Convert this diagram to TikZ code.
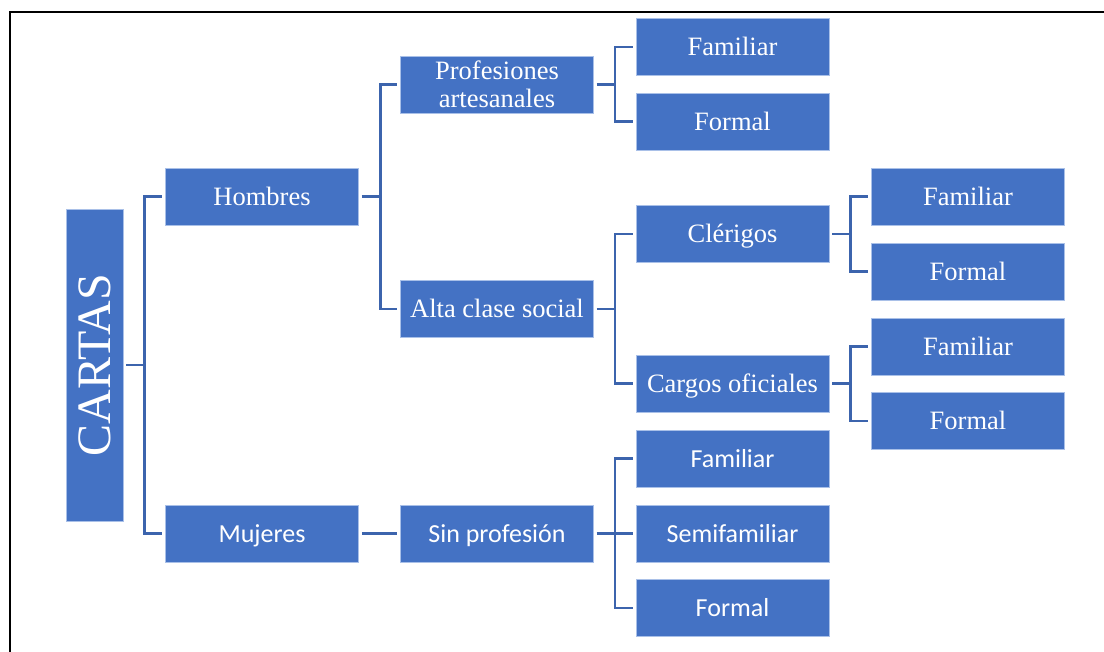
\documentclass[tikz,border=0pt]{standalone}
\usepackage{fontspec}
\setmainfont{Liberation Serif}
\newfontfamily\calibrifont{Carlito}
\usepackage{graphicx}
\usepackage{tikz}
\definecolor{boxblue}{HTML}{4472C4}
\definecolor{lineblue}{HTML}{3C64AD}
\definecolor{boxedge}{HTML}{A9C0E8}

\begin{document}
\begin{tikzpicture}[x=1pt,y=-1pt,
  box/.style={rectangle,fill=boxblue,draw=boxedge,line width=0.6pt,text=white,minimum width=193pt,minimum height=57pt,inner sep=0pt,align=center,font=\fontsize{26.5}{28}\selectfont},
  oneline/.style={box,text height=18.5pt,text depth=1.2pt},
  sansbox/.style={oneline,font=\calibrifont\fontsize{26}{28}\selectfont},
  conn/.style={draw=lineblue,line width=2.5pt,shorten <=3pt,shorten >=3pt}]
\useasboundingbox (0,0) rectangle (1104,652);
\draw[line width=2.5pt] (10,652) -- (10,12) -- (1104,12);

\node[box,minimum width=57pt,minimum height=312pt,font=\fontsize{48}{50}\selectfont] (cartas) at (94.5,365) {\rotatebox{90}{CARTAS}};

\node[oneline] (hombres) at (262,196.5) {Hombres};
\node[sansbox] (mujeres) at (262,533.5) {Mujeres};

\node[box] (profart) at (497,84.5) {Profesiones\\artesanales};
\node[oneline] (altaclase) at (497,309) {Alta clase social};
\node[sansbox] (sinprof) at (497,533.5) {Sin profesi\'on};

\node[oneline] (famprof) at (732.5,47) {Familiar};
\node[oneline] (forprof) at (732.5,121.5) {Formal};
\node[oneline] (clerigos) at (732.5,234) {Cl\'erigos};
\node[oneline] (cargos) at (732.5,383.5) {Cargos oficiales};
\node[sansbox] (famsin) at (732.5,458.5) {Familiar};
\node[sansbox] (semisin) at (732.5,533.5) {Semifamiliar};
\node[sansbox] (forsin) at (732.5,608) {Formal};

\node[oneline] (famcler) at (968,196.5) {Familiar};
\node[oneline] (forcler) at (968,271.5) {Formal};
\node[oneline] (famcarg) at (968,346.5) {Familiar};
\node[oneline] (forcarg) at (968,421) {Formal};

% conectores
\draw[conn] (cartas.east) -- ++(21,0) |- (hombres.west);
\draw[conn] (cartas.east) -- ++(21,0) |- (mujeres.west);
\draw[conn] (hombres.east) -- ++(21.5,0) |- (profart.west);
\draw[conn] (hombres.east) -- ++(21.5,0) |- (altaclase.west);
\draw[conn] (mujeres.east) -- (sinprof.west);
\draw[conn] (profart.east) -- ++(21,0) |- (famprof.west);
\draw[conn] (profart.east) -- ++(21,0) |- (forprof.west);
\draw[conn] (altaclase.east) -- ++(21,0) |- (clerigos.west);
\draw[conn] (altaclase.east) -- ++(21,0) |- (cargos.west);
\draw[conn] (sinprof.east) -- ++(21,0) |- (famsin.west);
\draw[conn] (sinprof.east) -- ++(21,0) |- (semisin.west);
\draw[conn] (sinprof.east) -- ++(21,0) |- (forsin.west);
\draw[conn] (clerigos.east) -- ++(21,0) |- (famcler.west);
\draw[conn] (clerigos.east) -- ++(21,0) |- (forcler.west);
\draw[conn] (cargos.east) -- ++(21,0) |- (famcarg.west);
\draw[conn] (cargos.east) -- ++(21,0) |- (forcarg.west);

\end{tikzpicture}
\end{document}
